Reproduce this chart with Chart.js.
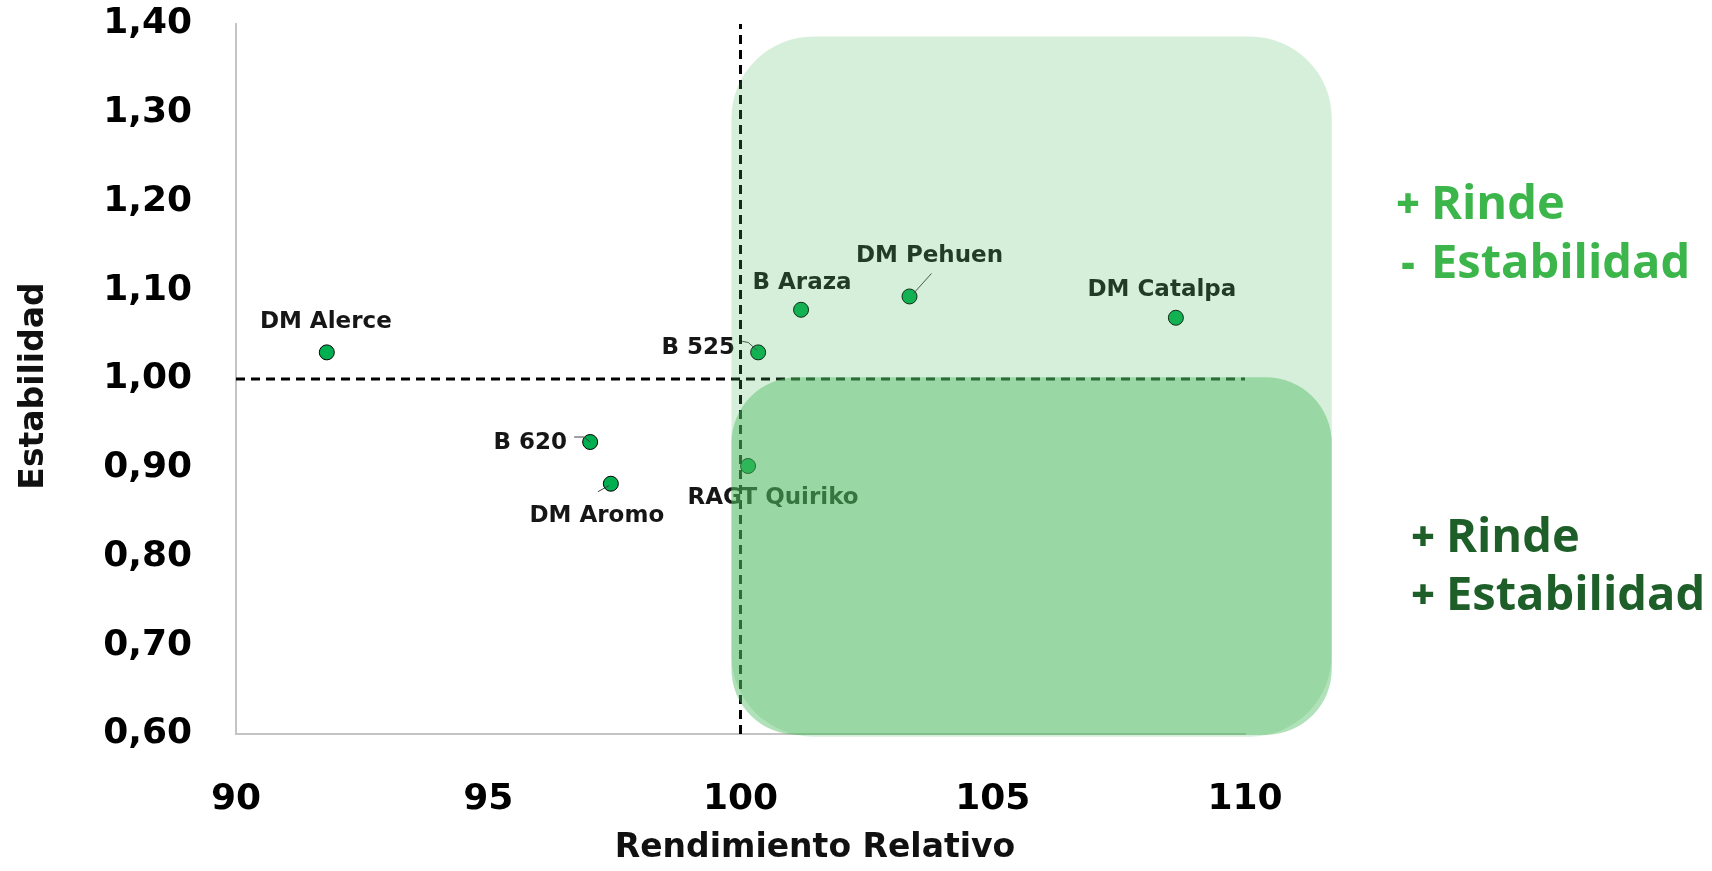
<!DOCTYPE html>
<html><head><meta charset="utf-8">
<script src="https://cdn.jsdelivr.net/npm/chart.js@4.4.0/dist/chart.umd.min.js"></script>
<style>html,body{margin:0;padding:0;background:#fff}#wrap{width:1712px;height:871px;position:relative}</style>
</head><body><div id="wrap"><canvas id="c"></canvas></div>
<script>
// ---- data ----
const varieties   = ['DM Alerce','B 620','DM Aromo','RAGT Quiriko','B 525','B Araza','DM Pehuen','DM Catalpa'];
const rendimiento = [91.80, 97.02, 97.43, 100.15, 100.35, 101.20, 103.35, 108.63];
const estabilidad = [1.030, 0.929, 0.882, 0.902, 1.030, 1.078, 1.093, 1.069];
const xTickValues = [90, 95, 100, 105, 110];
const yTickValues = [0.6, 0.7, 0.8, 0.9, 1.0, 1.1, 1.2, 1.3, 1.4];
const refRendimiento = 100;
const refEstabilidad = 1.0;
// highlight zones in data units: [xMin, xMax, yMin, yMax]
const zoneUpper = [99.82, 111.72, 0.597, 1.386];
const zoneLower = [99.82, 111.72, 0.599, 1.002];
const zoneSignsUpper = ['+', '-'];
const zoneWordsUpper = ['Rinde', 'Estabilidad'];
const zoneSignsLower = ['+', '+'];
const zoneWordsLower = ['Rinde', 'Estabilidad'];
const xTitle = 'Rendimiento Relativo';
const yTitle = 'Estabilidad';

// ---- label placement (pixel offsets from point) ----
const labelOffsets = [[-1,-33],[-60,-2],[-14,29],[25,29],[-60,-7],[1,-30],[20,-43],[-14,-31]];
const leaders = [null, [[-16,-5],[-6,-5],[0,0]], [[-13,8],[-2,2]], null, [[-16,-11],[-10,-10],[-1,-2]], null, [[22,-23],[4,-3]], null];

const WIDE = '"DejaVu Sans", sans-serif';
const OPEN = '"Open Sans", sans-serif';
const TARGET_TOP = 24;

function rr(ctx, x0, y0, x1, y1, r) {
  ctx.beginPath();
  ctx.moveTo(x0 + r, y0);
  ctx.lineTo(x1 - r, y0);
  ctx.arcTo(x1, y0, x1, y0 + r, r);
  ctx.lineTo(x1, y1 - r);
  ctx.arcTo(x1, y1, x1 - r, y1, r);
  ctx.lineTo(x0 + r, y1);
  ctx.arcTo(x0, y1, x0, y1 - r, r);
  ctx.lineTo(x0, y0 + r);
  ctx.arcTo(x0, y0, x0 + r, y0, r);
  ctx.closePath();
}

function zoneText(ctx, signs, words, signX, wordX, baselines, color) {
  ctx.fillStyle = color;
  for (let i = 0; i < signs.length; i++) {
    ctx.font = '800 41px ' + OPEN;
    ctx.textAlign = 'center';
    ctx.fillText(signs[i], signX, baselines[i] - 1);
    ctx.font = 'bold 47px ' + OPEN;
    ctx.textAlign = 'left';
    ctx.fillText(words[i], wordX, baselines[i]);
  }
}

const overlay = {
  id: 'overlay',
  afterDatasetsDraw(chart) {
    const ctx = chart.ctx, xs = chart.scales.x, ys = chart.scales.y;
    const meta = chart.getDatasetMeta(2);
    ctx.save();
    ctx.strokeStyle = '#404040'; ctx.lineWidth = 1;
    meta.data.forEach((pt, i) => {
      const l = leaders[i]; if (!l) return;
      ctx.beginPath();
      l.forEach((o, k) => { const px = pt.x + o[0], py = pt.y + o[1]; k ? ctx.lineTo(px, py) : ctx.moveTo(px, py); });
      ctx.stroke();
    });
    ctx.font = 'bold 23px ' + WIDE;
    ctx.fillStyle = '#161616';
    ctx.textAlign = 'center'; ctx.textBaseline = 'alphabetic';
    meta.data.forEach((pt, i) => {
      ctx.fillText(varieties[i], pt.x + labelOffsets[i][0], pt.y + labelOffsets[i][1] + 9);
    });
    const zc = 'rgba(79,188,97,';
    let z = zoneUpper;
    ctx.fillStyle = zc + '0.23)';
    rr(ctx, xs.getPixelForValue(z[0]), ys.getPixelForValue(z[3]), xs.getPixelForValue(z[1]), ys.getPixelForValue(z[2]), 82);
    ctx.fill();
    z = zoneLower;
    ctx.fillStyle = zc + '0.45)';
    rr(ctx, xs.getPixelForValue(z[0]), ys.getPixelForValue(z[3]), xs.getPixelForValue(z[1]), ys.getPixelForValue(z[2]), 66);
    ctx.fill();
    ctx.restore();
  },
  afterDraw(chart) {
    const ctx = chart.ctx;
    ctx.save();
    ctx.textBaseline = 'alphabetic';
    zoneText(ctx, zoneSignsUpper, zoneWordsUpper, 1408, 1431, [219, 278], '#3cb64b');
    zoneText(ctx, zoneSignsLower, zoneWordsLower, 1423, 1446, [552, 610], '#1e5e28');
    ctx.fillStyle = '#111';
    ctx.font = 'bold 33px ' + WIDE;
    ctx.textAlign = 'center';
    ctx.fillText(xTitle, 815, 857);
    ctx.translate(43, 386);
    ctx.rotate(-Math.PI / 2);
    ctx.fillText(yTitle, 0, 0);
    ctx.restore();
  }
};

const chart = new Chart(document.getElementById('c'), {
  data: {
    datasets: [
      { type: 'line', data: [{x: refRendimiento, y: 0.6}, {x: refRendimiento, y: 1.4}],
        borderColor: '#000', borderWidth: 3, borderDash: [9, 6], pointRadius: 0, fill: false, clip: false },
      { type: 'line', data: [{x: 90, y: refEstabilidad}, {x: 110, y: refEstabilidad}],
        borderColor: '#000', borderWidth: 3, borderDash: [9, 6], pointRadius: 0, fill: false, clip: false },
      { type: 'scatter', data: rendimiento.map((v, i) => ({x: v, y: estabilidad[i]})),
        pointBackgroundColor: '#00b050', pointBorderColor: '#000', pointBorderWidth: 1, pointRadius: 7.5, pointHoverRadius: 7.5 }
    ]
  },
  options: {
    responsive: true, maintainAspectRatio: false, animation: false,
    events: [],
    layout: { padding: { left: 0, top: TARGET_TOP, right: 467, bottom: 0 } },
    plugins: { legend: { display: false }, tooltip: { enabled: false } },
    scales: {
      x: {
        type: 'linear', min: 90, max: 110,
        afterBuildTicks: s => { s.ticks = xTickValues.map(v => ({value: v})); },
        afterFit: s => { s.height = 137; s.paddingLeft = 0; s.paddingRight = 0; },
        grid: { display: false, drawTicks: false },
        border: { display: true, color: '#c4c4c4', width: 2 },
        ticks: { padding: 44, color: '#000', font: { family: WIDE, size: 36, weight: 'bold' }, callback: v => String(v) }
      },
      y: {
        type: 'linear', min: 0.6, max: 1.4,
        afterBuildTicks: s => { s.ticks = yTickValues.map(v => ({value: v})); },
        afterFit: s => { s.width = 236; s.paddingTop = 0; s.paddingBottom = 0; },
        grid: { display: false, drawTicks: false },
        border: { display: true, color: '#c4c4c4', width: 2 },
        ticks: { padding: 44, color: '#000', font: { family: WIDE, size: 36, weight: 'bold' },
                 callback: v => Number(v).toFixed(2).replace('.', ',') }
      }
    }
  },
  plugins: [overlay]
});
const diff = chart.chartArea.top - TARGET_TOP;
if (Math.abs(diff) > 0.5) {
  chart.options.layout.padding.top = TARGET_TOP - diff;
  chart.update();
}
</script></body></html>
